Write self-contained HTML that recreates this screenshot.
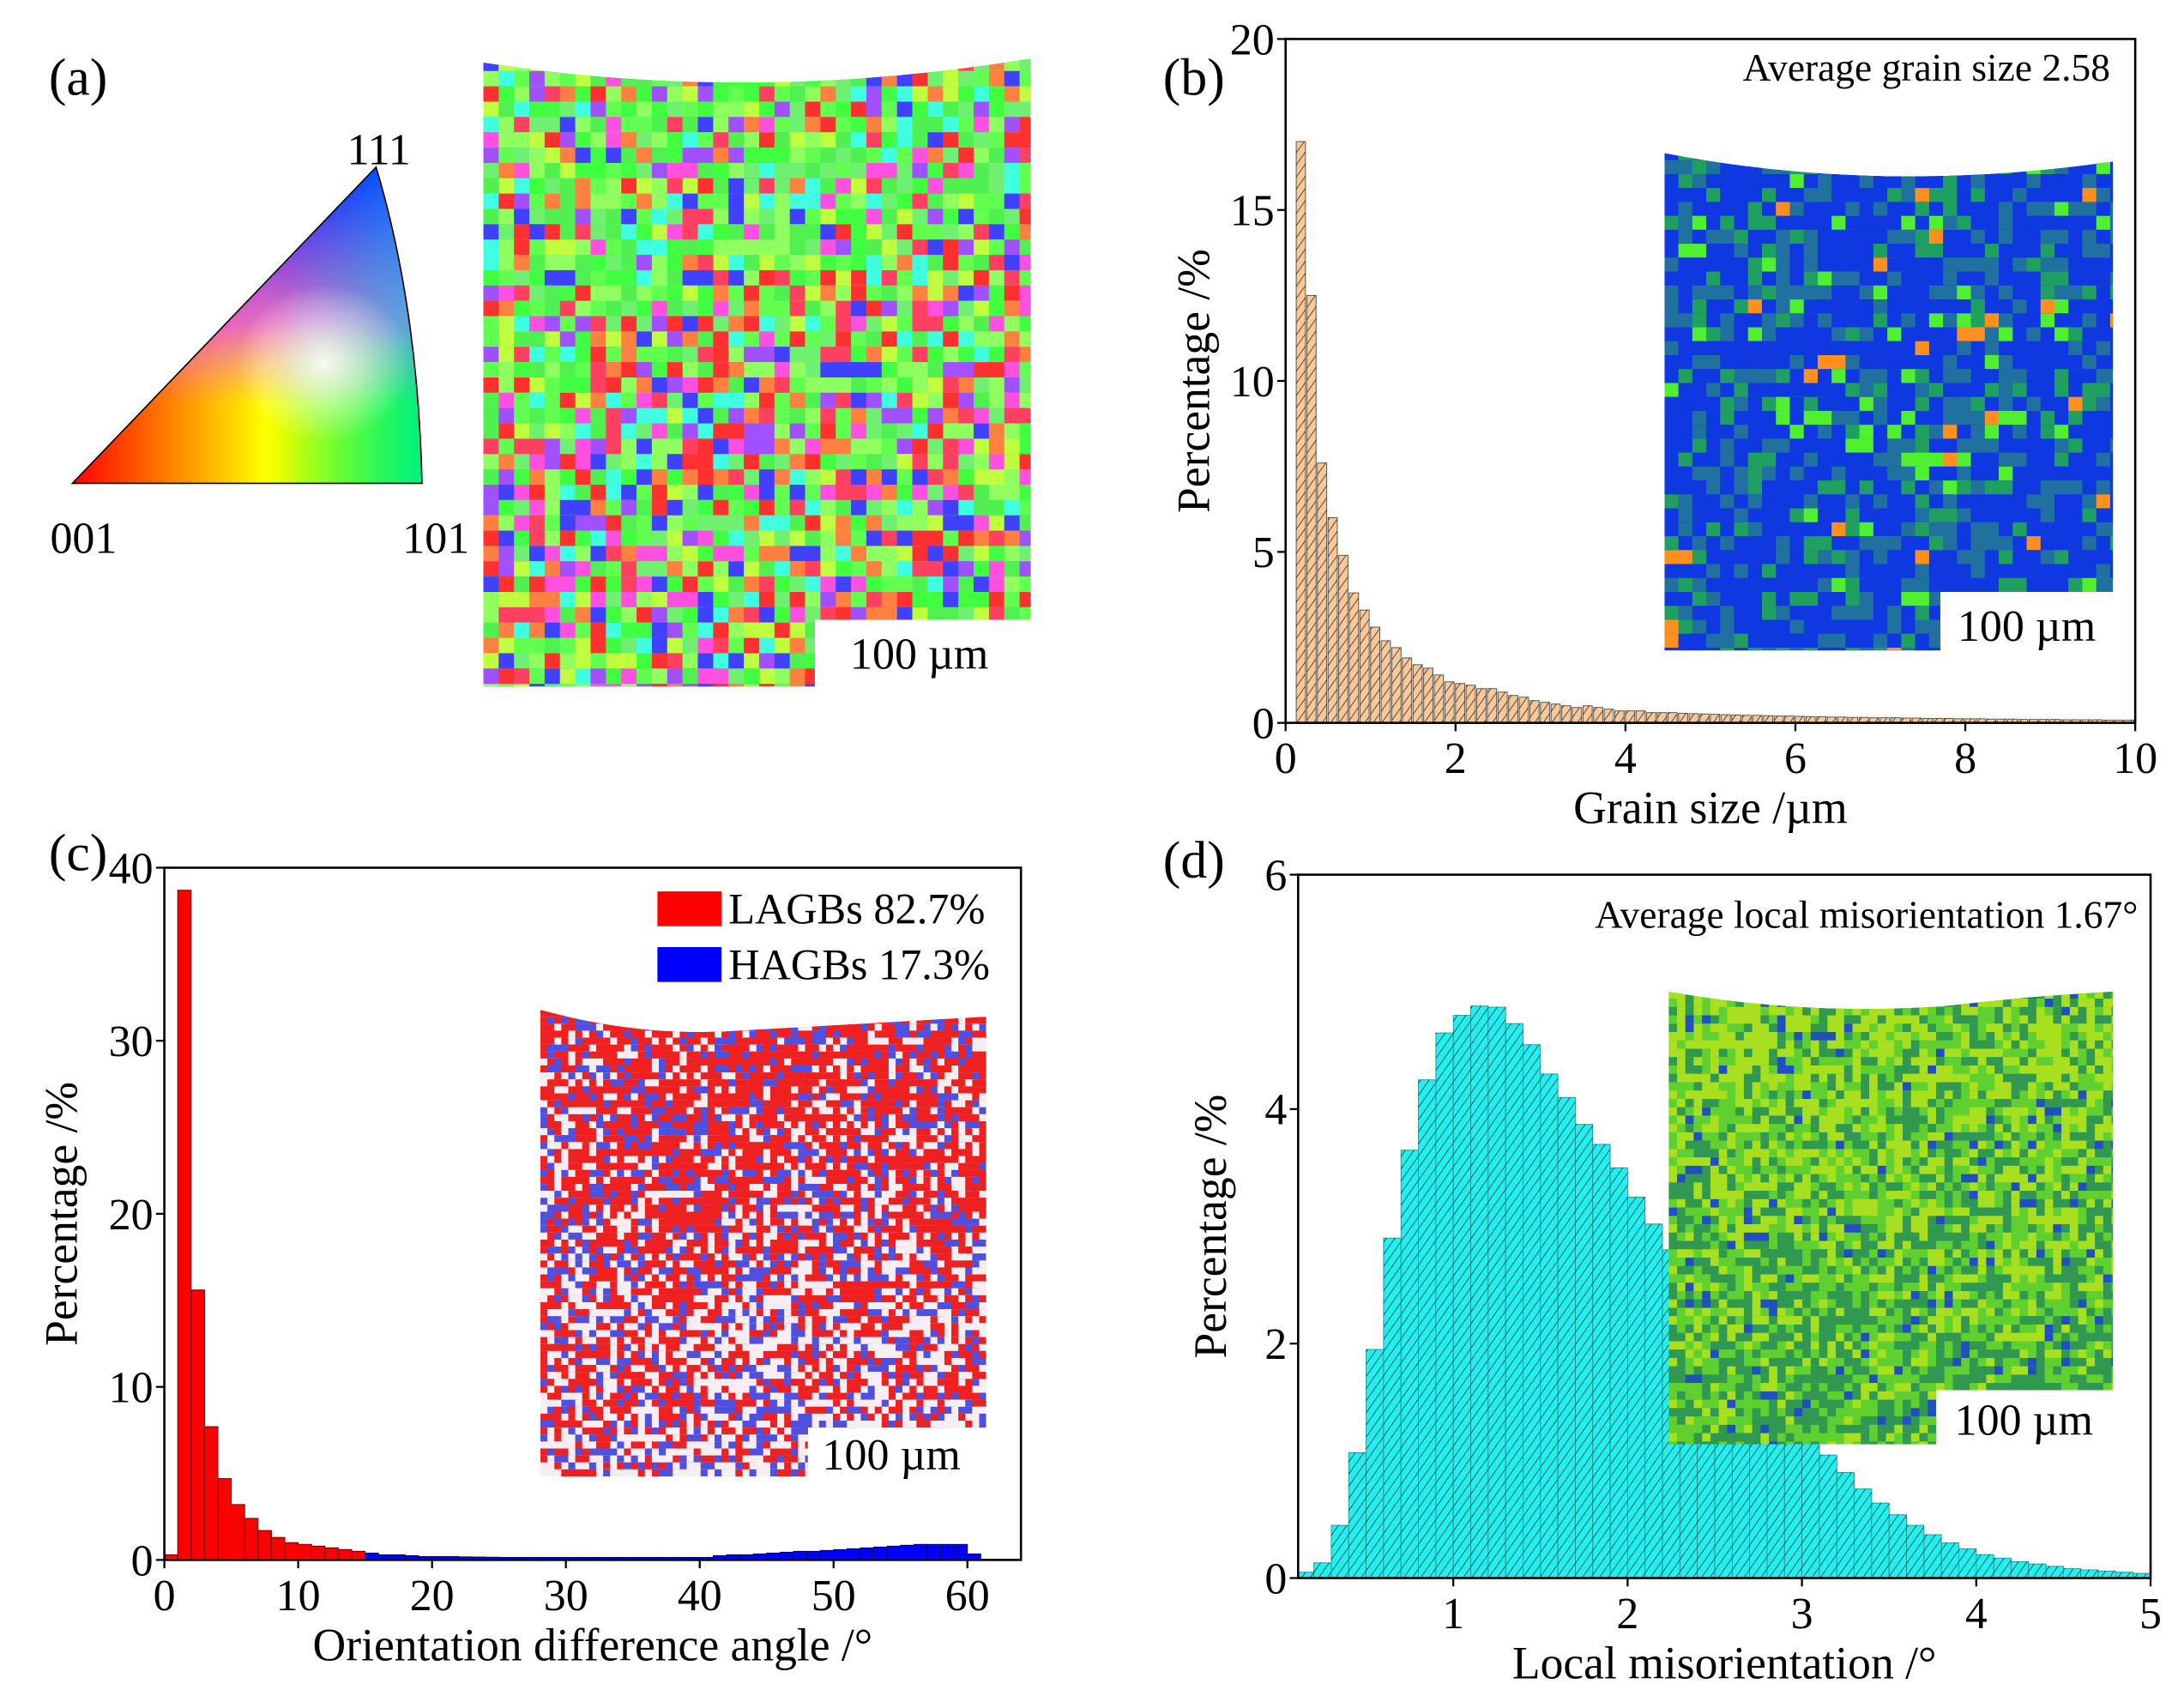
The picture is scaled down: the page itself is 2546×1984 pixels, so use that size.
<!DOCTYPE html>
<html><head><meta charset="utf-8"><style>
html,body{margin:0;padding:0;background:#fff}
svg{display:block}
text{font-family:"Liberation Serif",serif;fill:#000}
</style></head><body>
<svg id="fig" xmlns="http://www.w3.org/2000/svg" width="2546" height="1984" viewBox="0 0 1568 1222" preserveAspectRatio="none">
<defs>
<pattern id="hatch" patternUnits="userSpaceOnUse" width="5" height="5" patternTransform="rotate(35)">
<line x1="0" y1="0" x2="0" y2="5" stroke="#111" stroke-width="1" opacity="0.85"/></pattern>
<linearGradient id="triRG" x1="0" y1="0" x2="1" y2="0"><stop offset="0" stop-color="#ff0000"/><stop offset="0.55" stop-color="#ffff00"/><stop offset="1" stop-color="#00ff00"/></linearGradient>
<radialGradient id="triW" cx="0.72" cy="0.62" r="0.25"><stop offset="0" stop-color="#fff" stop-opacity="0.9"/><stop offset="1" stop-color="#fff" stop-opacity="0"/></radialGradient>
<linearGradient id="triB" x1="0" y1="1" x2="0" y2="0"><stop offset="0.25" stop-color="#ff60ff" stop-opacity="0"/><stop offset="0.5" stop-color="#e040ff" stop-opacity="0.75"/><stop offset="1" stop-color="#0000ff" stop-opacity="1"/></linearGradient>
<linearGradient id="triC" x1="0" y1="0" x2="1" y2="0"><stop offset="0.6" stop-color="#00ffff" stop-opacity="0"/><stop offset="1" stop-color="#00e0ff" stop-opacity="0.5"/></linearGradient>
<clipPath id="clipA"><path d="M347,45 Q540,75 740,42 L740,445 L585,445 L585,493 L347,493 Z"/></clipPath>
<clipPath id="clipB"><path d="M1195,110 Q1350,140 1517,116 L1517,425 L1393,425 L1393,467 L1195,467 Z"/></clipPath>
<clipPath id="clipC"><path d="M388,725 Q460,745 530,740 Q620,735 708,730 L708,1025 L580,1025 L580,1060 L388,1060 Z"/></clipPath>
<clipPath id="clipD"><path d="M1198,712 Q1300,730 1400,722 Q1460,715 1517,712 L1517,998 L1390,998 L1390,1037 L1198,1037 Z"/></clipPath>
</defs>

<!-- Panel a -->
<text x="35" y="68" font-size="38">(a)</text>
<g>
<path d="M52,347 L270,120 Q300,220 303,347 Z" fill="url(#triRG)"/>
<path d="M52,347 L270,120 Q300,220 303,347 Z" fill="url(#triB)"/>
<path d="M52,347 L270,120 Q300,220 303,347 Z" fill="url(#triC)"/>
<path d="M52,347 L270,120 Q300,220 303,347 Z" fill="url(#triW)"/>
<path d="M52,347 L270,120 Q300,220 303,347 Z" fill="none" stroke="#000" stroke-width="1"/>
</g>
<text x="272" y="118" font-size="32" text-anchor="middle">111</text>
<text x="60" y="397" font-size="32" text-anchor="middle">001</text>
<text x="313" y="397" font-size="32" text-anchor="middle">101</text>
<g id="mapA" clip-path="url(#clipA)"></g>
<text x="660" y="480" font-size="32" text-anchor="middle">100 µm</text>

<!-- Panel b -->
<text x="835" y="68" font-size="38">(b)</text>
<g id="chartB"></g>
<!-- Panel c -->
<text x="35" y="625" font-size="38">(c)</text>
<g id="chartC"></g>
<!-- Panel d -->
<text x="835" y="630" font-size="38">(d)</text>
<g id="chartD"></g>
</svg>
<script>
// ---- data ----
const bSizeTicks = [0,2,4,6,8,10];
const bPctTicks = [0,5,10,15,20];
const bBinWidth = 0.125;
const bValues = [17,12.5,7.6,6,4.9,3.8,3.3,2.8,2.4,2.2,1.9,1.7,1.6,1.4,1.2,1.15,1.1,1.0,1.0,0.9,0.8,0.75,0.65,0.6,0.55,0.5,0.45,0.5,0.45,0.4,0.35,0.35,0.35,0.3,0.3,0.3,0.28,0.27,0.26,0.25,0.24,0.23,0.22,0.22,0.21,0.2,0.2,0.19,0.18,0.18,0.17,0.17,0.16,0.16,0.15,0.15,0.15,0.14,0.14,0.13,0.13,0.13,0.12,0.12,0.12,0.11,0.11,0.11,0.1,0.1,0.1,0.1,0.09,0.09,0.09,0.09,0.08,0.08,0.08];

const cAngleTicks = [0,10,20,30,40,50,60];
const cPctTicks = [0,10,20,30,40];
const cLagbValues = [0.3,38.7,15.6,7.7,4.7,3.2,2.4,1.7,1.3,1.0,0.9,0.8,0.7,0.6,0.5];
const cHagbValues = [0.4,0.3,0.3,0.25,0.2,0.2,0.2,0.18,0.17,0.16,0.15,0.15,0.15,0.15,0.15,0.15,0.15,0.15,0.15,0.15,0.15,0.15,0.15,0.15,0.15,0.15,0.25,0.3,0.3,0.35,0.4,0.45,0.5,0.5,0.55,0.6,0.65,0.7,0.75,0.8,0.85,0.9,0.9,0.9,0.9,0.35];

const dMisTicks = [1,2,3,4,5];
const dPctTicks = [0,2,4,6];
const dBinStart = 0.1, dBinWidth = 0.1;
const dValues = [0.05,0.13,0.45,1.07,1.95,2.9,3.65,4.25,4.65,4.8,4.88,4.87,4.73,4.55,4.3,4.1,3.87,3.7,3.5,3.25,3.02,2.8,2.58,2.37,2.15,1.95,1.75,1.55,1.37,1.2,1.05,0.9,0.76,0.64,0.54,0.45,0.37,0.3,0.25,0.2,0.17,0.14,0.12,0.1,0.08,0.07,0.06,0.05,0.04];

const NS="http://www.w3.org/2000/svg";
function mk(parent,tag,attrs,txt){const e=document.createElementNS(NS,tag);for(const k in attrs)e.setAttribute(k,attrs[k]);if(txt!==undefined)e.textContent=txt;parent.appendChild(e);return e;}
let seed=12345;function rnd(){seed=(seed*1103515245+12345)%2147483648;return seed/2147483648;}

function axes(g,L,R,T,B,xmin,xmax,ymin,ymax,xt,yt,xlabel,ylabel,ylx){
  const sx=v=>L+(v-xmin)/(xmax-xmin)*(R-L), sy=v=>B-(v-ymin)/(ymax-ymin)*(B-T);
  return {sx,sy,draw(){
    const f=mk(g,'rect',{x:L,y:T,width:R-L,height:B-T,fill:'none',stroke:'#000','stroke-width':1.6});
    
    
    xt.forEach(v=>{const t=mk(g,'text',{x:sx(v),y:B+36,'font-size':32,'text-anchor':'middle'},String(v));
      
      
      mk(g,'line',{x1:sx(v),x2:sx(v),y1:B,y2:B+6,stroke:'#000','stroke-width':1.4});});
    yt.forEach(v=>{const t=mk(g,'text',{x:L-8,y:sy(v)+11,'font-size':32,'text-anchor':'end'},String(v));
      
      
      mk(g,'line',{x1:L,x2:L-6,y1:sy(v),y2:sy(v),stroke:'#000','stroke-width':1.4});});
    const xl=mk(g,'text',{x:(L+R)/2,y:B+72,'font-size':33,'text-anchor':'middle'},xlabel);
    
    
    const cy=(T+B)/2;
    const yl=mk(g,'text',{x:ylx,y:cy,'font-size':33,'text-anchor':'middle',transform:`rotate(-90 ${ylx} ${cy})`},ylabel);
    
    
  }};
}

function noiseMap(g,x0,y0,w,h,cell,colorFn){
  for(let yy=y0;yy<y0+h;yy+=cell){for(let xx=x0;xx<x0+w;xx+=cell){
    const c=colorFn((xx-x0)/w,(yy-y0)/h);
    mk(g,'rect',{x:xx,y:yy,width:cell*(1+rnd()*1.5),height:cell,fill:c});}}
}

// map a
(function(){
  const g=document.getElementById('mapA');
  mk(g,'rect',{x:347,y:40,width:393,height:455,fill:'#55ee66'});
  const greens=['#40ff40','#60ff50','#70f070','#50f050','#90ff60'];
  const others=['#ff3030','#ff50e0','#4040ff','#40ffe0','#ff8040','#c0ff40','#a050ff','#ff4060'];
  noiseMap(g,347,40,393,455,11,(u,v)=>{const r=rnd();const pg=0.62-0.3*v;
    if(r<pg)return greens[Math.floor(rnd()*greens.length)];return others[Math.floor(rnd()*others.length)];});
})();

// chart b
(function(){
  const g=document.getElementById('chartB');
  const ax=axes(g,923,1533,28,519,0,10,0,20,bSizeTicks,bPctTicks,'Grain size /µm','Percentage /%',868);
  const bars=mk(g,'g',{});
  
  
  bValues.forEach((v,i)=>{const x0=ax.sx(0.125+i*bBinWidth),x1=ax.sx(0.125+(i+1)*bBinWidth);
    const r=mk(bars,'rect',{x:x0,y:ax.sy(v),width:x1-x0-1,height:ax.sy(0)-ax.sy(v),fill:'#f8c898',stroke:'#555','stroke-width':0.6});
    
    
    mk(bars,'rect',{x:x0,y:ax.sy(v),width:x1-x0-1,height:ax.sy(0)-ax.sy(v),fill:'url(#hatch)'});});
  const ins=mk(g,'g',{'clip-path':'url(#clipB)'});
  
  
  mk(ins,'rect',{x:1195,y:105,width:322,height:365,fill:'#1038e0'});
  noiseMap(ins,1195,105,322,365,10,(u,v)=>{const r=rnd();return r<0.55?'#1038e0':(r<0.8?'#2070a0':(r<0.92?'#20a060':(r<0.97?'#50f030':'#ff9020')));});
  const sb=mk(g,'text',{x:1455,y:460,'font-size':32,'text-anchor':'middle'},'100 µm');
  
  
  const an=mk(g,'text',{x:1515,y:58,'font-size':28,'text-anchor':'end'},'Average grain size 2.58');
  
  
  ax.draw();
})();

// chart c
(function(){
  const g=document.getElementById('chartC');
  const ax=axes(g,118,733,623,1120,0,64,0,40,cAngleTicks,cPctTicks,'Orientation difference angle /°','Percentage /%',55);
  const bars=mk(g,'g',{});
  
  
  cLagbValues.forEach((v,i)=>{const x0=ax.sx(i),x1=ax.sx(i+1);
    const r=mk(bars,'rect',{x:x0,y:ax.sy(v),width:x1-x0,height:ax.sy(0)-ax.sy(v),fill:'#ff0000',stroke:'#600',"stroke-width":0.6});
    
    });
  cHagbValues.forEach((v,i)=>{const x0=ax.sx(15+i),x1=ax.sx(16+i);
    const r=mk(bars,'rect',{x:x0,y:ax.sy(v),width:x1-x0,height:ax.sy(0)-ax.sy(v),fill:'#0000ff',stroke:'#003',"stroke-width":0.5});
    
    });
  const ins=mk(g,'g',{'clip-path':'url(#clipC)'});
  
  
  noiseMap(ins,388,720,320,345,5,(u,v)=>{const r=rnd();const pr=0.62-0.3*v;const pb=0.22;return r<pr?'#ee2020':(r<pr+pb?'#5050e0':'#f6eef2');});
  const sb=mk(g,'text',{x:640,y:1055,'font-size':32,'text-anchor':'middle'},'100 µm');
  
  
  const l1=mk(g,'rect',{x:472,y:640,width:46,height:25,fill:'#ff0000'});
  
  
  const t1=mk(g,'text',{x:523,y:663,'font-size':31},'LAGBs 82.7%');
  
  
  const l2=mk(g,'rect',{x:472,y:680,width:46,height:25,fill:'#0000ff'});
  
  
  const t2=mk(g,'text',{x:523,y:703,'font-size':31},'HAGBs 17.3%');
  
  
  ax.draw();
})();

// chart d
(function(){
  const g=document.getElementById('chartD');
  const ax=axes(g,932,1544,628,1133,0.11,5,0,6,dMisTicks,dPctTicks,'Local misorientation /°','Percentage /%',880);
  const bars=mk(g,'g',{});
  
  
  dValues.forEach((v,i)=>{const x0=Math.max(ax.sx(dBinStart+i*dBinWidth),932),x1=ax.sx(dBinStart+(i+1)*dBinWidth);
    const r=mk(bars,'rect',{x:x0,y:ax.sy(v),width:x1-x0,height:ax.sy(0)-ax.sy(v),fill:'#20f0f0',stroke:'#1a8a8a','stroke-width':0.5});
    
    
    mk(bars,'rect',{x:x0,y:ax.sy(v),width:x1-x0,height:ax.sy(0)-ax.sy(v),fill:'url(#hatch)'});});
  const ins=mk(g,'g',{'clip-path':'url(#clipD)'});
  
  
  mk(ins,'rect',{x:1198,y:705,width:320,height:335,fill:'#50c030'});
  noiseMap(ins,1198,705,320,335,6,(u,v)=>{const r=rnd();const py=0.5-0.4*v;return r<py?'#a8e020':(r<py+0.2+0.25*v?'#309850':(r<0.95?'#60d030':'#2050c0'));});
  const sb=mk(g,'text',{x:1453,y:1030,'font-size':32,'text-anchor':'middle'},'100 µm');
  
  
  const an=mk(g,'text',{x:1535,y:666,'font-size':28,'text-anchor':'end'},'Average local misorientation  1.67°');
  
  
  ax.draw();
})();
</script>
</body></html>
